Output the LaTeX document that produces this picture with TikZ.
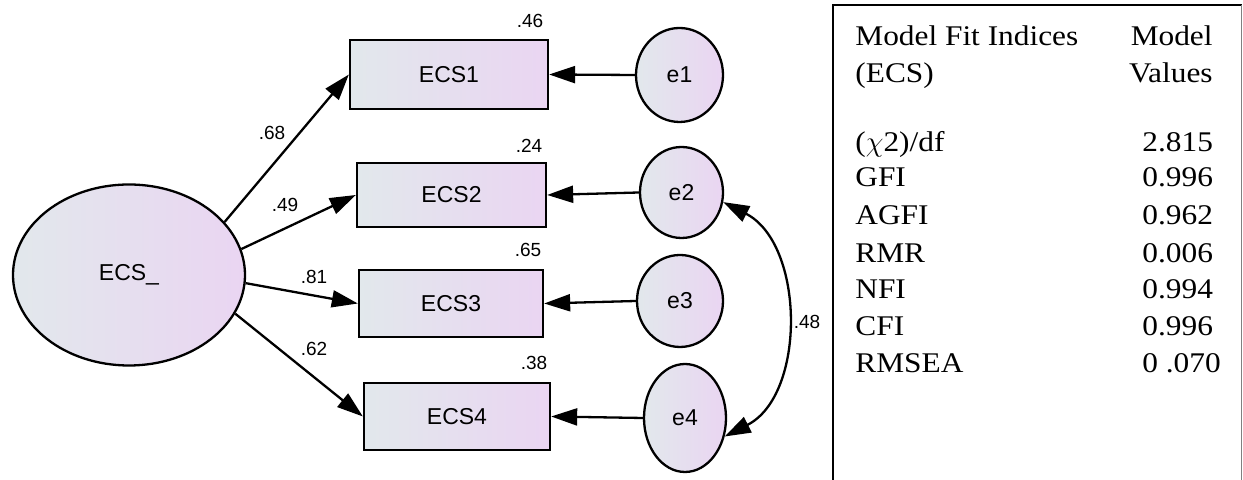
\documentclass[tikz,border=0pt]{standalone}
\usepackage{fontspec}
\setmainfont{Liberation Sans}
\newfontfamily\tablefont[FakeStretch=1.1]{Liberation Serif}
\usepackage{xcolor}
\usepackage{tikz}
\usetikzlibrary{shapes.geometric, arrows.meta, positioning}
\definecolor{amosgrey}{HTML}{E2E8EC}
\definecolor{amoslilac}{HTML}{EAD5F2}

\begin{document}
\begin{tikzpicture}[
    x=0.5pt, y=0.5pt,
    latent/.style={draw, ellipse, line width=1.15pt, inner sep=0pt, left color=amosgrey, right color=amoslilac, font=\fontsize{11.5}{13}\selectfont},
    indicator/.style={draw, rectangle, line width=1.15pt, inner sep=0pt, left color=amosgrey, right color=amoslilac, minimum width=93pt, minimum height=33.5pt, font=\fontsize{11.5}{13}\selectfont},
    coef/.style={inner sep=0pt, font=\fontsize{9.5}{11}\selectfont},
    fitrow/.style={inner sep=0pt, font=\tablefont\fontsize{14.25}{17}\selectfont},
    arrow/.style={-{Triangle[length=13pt, width=8.5pt]}, line width=1.15pt}
]
    \useasboundingbox (0,0) rectangle (1243,480);

    % latent factor and its items
    \node[latent, minimum width=116pt, minimum height=90.5pt] (ECS) at (129,205) {ECS\_};
    \node[indicator, minimum width=99pt, minimum height=34.5pt] (ECS1) at (449,405.5) {ECS1};
    \node[indicator, minimum width=94.5pt, minimum height=32pt] (ECS2) at (451.5,285) {ECS2};
    \node[indicator, minimum width=92pt] (ECS3) at (451,176.5) {ECS3};
    \node[indicator] (ECS4) at (457,63.5) {ECS4};

    % error terms
    \node[latent, minimum width=43.5pt, minimum height=47pt] (e1) at (679.5,405) {e1};
    \node[latent, minimum width=41.5pt, minimum height=45.5pt] (e2) at (681.5,287.5) {e2};
    \node[latent, minimum width=43pt, minimum height=46pt] (e3) at (680,179) {e3};
    \node[latent, minimum width=41pt, minimum height=54pt] (e4) at (685,62) {e4};

    \draw[arrow] (ECS.29) -- (ECS1.west);
    \draw[arrow] (ECS.13) -- (ECS2.west);
    \draw[arrow] (ECS.-4) -- (ECS3.west);
    \draw[arrow] (ECS.-20) -- (ECS4.west);

    \draw[arrow] (e1.west) -- (ECS1.east);
    \draw[arrow] (e2.west) -- (ECS2.east);
    \draw[arrow] (e3.west) -- (ECS3.east);
    \draw[arrow] (e4.west) -- (ECS4.east);

    \draw[{Triangle[length=13pt, width=8.5pt]}-{Triangle[length=13pt, width=8.5pt]}, line width=1.15pt] (e2.-13) to[out=-27, in=27] (e4.-25);

    % loadings and squared correlations
    \node[coef] (l1) at (272,347) {.68};
    \node[coef] (l2) at (285,275) {.49};
    \node[coef] (l3) at (314,203) {.81};
    \node[coef] (l4) at (314,131) {.62};
    \node[coef] (r1) at (530,459) {.46};
    \node[coef] (r2) at (529,334) {.24};
    \node[coef] (r3) at (528,230) {.65};
    \node[coef] (r4) at (534,117) {.38};
    \node[coef] (cov) at (807,158) {.48};

    % fit table
    \draw[line width=1.25pt] (833,0) -- (833,475) -- (1241.5,475);
    \draw[gray, line width=0.5pt] (1241.5,475) -- (1241.5,0);

    \node[fitrow, anchor=base west] (h1) at (855,434.3) {Model Fit Indices};
    \node[fitrow, anchor=base west] (h2) at (855,397.3) {(ECS)};
    \node[fitrow, anchor=base east] (v1) at (1213,434.3) {Model};
    \node[fitrow, anchor=base east] (v2) at (1213,397.3) {Values};

    \node[fitrow, anchor=base west] (chi) at (855,328.3) {($\chi$2)/df};
    \node[fitrow, anchor=base west] (gfi) at (855,293.3) {GFI};
    \node[fitrow, anchor=base west] (agfi) at (855,255) {AGFI};
    \node[fitrow, anchor=base west] (rmr) at (855,217.7) {RMR};
    \node[fitrow, anchor=base west] (nfi) at (855,181) {NFI};
    \node[fitrow, anchor=base west] (cfi) at (855,144) {CFI};
    \node[fitrow, anchor=base west] (rmsea) at (855,107.3) {RMSEA};

    \node[fitrow, anchor=base west] (chiv) at (1142,328.3) {2.815};
    \node[fitrow, anchor=base west] (gfiv) at (1142,293.3) {0.996};
    \node[fitrow, anchor=base west] (agfiv) at (1142,255) {0.962};
    \node[fitrow, anchor=base west] (rmrv) at (1142,217.7) {0.006};
    \node[fitrow, anchor=base west] (nfiv) at (1142,181) {0.994};
    \node[fitrow, anchor=base west] (cfiv) at (1142,144) {0.996};
    \node[fitrow, anchor=base west] (rmseav) at (1142,107.3) {0 .070};
\end{tikzpicture}
\end{document}
